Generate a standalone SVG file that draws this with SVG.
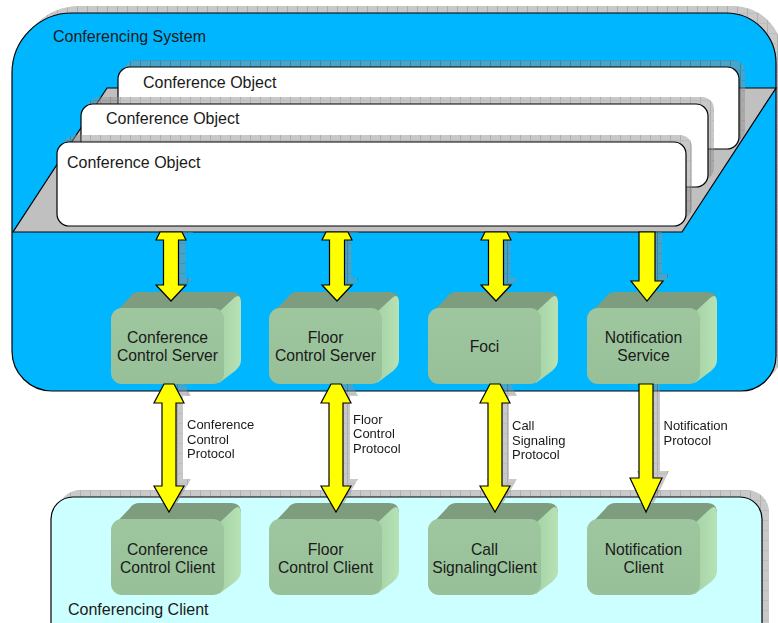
<svg xmlns="http://www.w3.org/2000/svg" xmlns:xlink="http://www.w3.org/1999/xlink" width="778" height="623" viewBox="0 0 778 623">
<defs>
<style>
text { font-family: "Liberation Sans", Arial, Helvetica, sans-serif; fill: #1a1a1a; }
.big { font-size: 16px; }
.lbl { font-size: 15.7px; text-anchor: middle; }
.proto { font-size: 13px; }
.edge { stroke: #000; stroke-width: 1.2; }
.shadow { fill: url(#hatch); opacity: 0.5; }
.co { fill: #fff; stroke: #000; stroke-width: 1.2; }
</style>
<pattern id="hatch" width="10" height="10" patternUnits="userSpaceOnUse">
<rect width="10" height="10" fill="#929292"/>
<rect width="1" height="10" fill="#5c5c5c"/>
<rect width="10" height="1" fill="#7a7a7a"/>
</pattern>
<linearGradient id="gRight" x1="0" y1="0" x2="1" y2="0">
<stop offset="0" stop-color="#a6d3a6"/>
<stop offset="1" stop-color="#b6e2b6"/>
</linearGradient>
<linearGradient id="gFront" x1="0" y1="0" x2="0" y2="1">
<stop offset="0" stop-color="#9fc79f"/>
<stop offset="1" stop-color="#98c098"/>
</linearGradient>
<g id="cube">
<path d="M3,6 L19,-11 Q22,-16 29,-16 L120,-16 Q130,-16 130,-6 L113,10 Z" fill="#7e9c7e"/>
<path d="M108,4 L123,-10 Q130,-16 130,-4 L130,52 Q130,58 124,63 L108,75 Z" fill="url(#gRight)"/>
<rect x="0" y="0" width="113" height="76" rx="11" fill="url(#gFront)"/>
</g>
<clipPath id="clipUp"><rect x="0" y="232" width="778" height="59"/></clipPath>
<clipPath id="clipLow"><rect x="0" y="384" width="778" height="119"/></clipPath>
</defs>

<g id="conferencing-system">
<path class="shadow" transform="translate(7,-7)" d="M72,13 H726 A50,50 0 0 1 776,63 V356 A35,35 0 0 1 741,391 H52 A40,40 0 0 1 12,351 V73 A60,60 0 0 1 72,13 Z"/>
<path d="M72,13 H726 A50,50 0 0 1 776,63 V356 A35,35 0 0 1 741,391 H52 A40,40 0 0 1 12,351 V73 A60,60 0 0 1 72,13 Z" fill="#00b6ff" class="edge"/>
<text class="big" x="53" y="42">Conferencing System</text>
</g>

<g id="conferencing-client">
<rect class="shadow" x="58" y="490" width="711" height="180" rx="22"/>
<rect x="51" y="497" width="711" height="180" rx="22" fill="#ccffff" class="edge"/>
<text class="big" x="68" y="615">Conferencing Client</text>
</g>

<g id="conference-object-stack">
<polygon points="107,88 776,88 682,232 13,232" fill="#c0c0c0" class="edge"/>
</g>

<g id="conference-object-3">
<rect class="shadow" x="124" y="60" width="621" height="82" rx="12"/>
<rect class="co" x="118" y="67" width="621" height="82" rx="12"/>
<text class="big" x="143" y="88">Conference Object</text>
</g>
<g id="conference-object-2">
<rect class="shadow" x="87" y="97" width="627" height="83" rx="12"/>
<rect class="co" x="81" y="104" width="627" height="83" rx="12"/>
<text class="big" x="106" y="124">Conference Object</text>
</g>
<g id="conference-object-1">
<rect class="shadow" x="63" y="135" width="629" height="84" rx="12"/>
<rect class="co" x="57" y="142" width="629" height="84" rx="12"/>
<text class="big" x="67" y="168">Conference Object</text>
</g>

<g id="conference-control-server">
<use href="#cube" x="111" y="308"/>
<text class="lbl" x="167.5" y="343">Conference</text>
<text class="lbl" x="167.5" y="361">Control Server</text>
</g>
<g id="floor-control-server">
<use href="#cube" x="269" y="308"/>
<text class="lbl" x="325.5" y="343">Floor</text>
<text class="lbl" x="325.5" y="361">Control Server</text>
</g>
<g id="foci">
<use href="#cube" x="428" y="308"/>
<text class="lbl" x="484.5" y="352">Foci</text>
</g>
<g id="notification-service">
<use href="#cube" x="587" y="308"/>
<text class="lbl" x="643.5" y="343">Notification</text>
<text class="lbl" x="643.5" y="361">Service</text>
</g>

<g id="conference-control-client">
<use href="#cube" x="111" y="519"/>
<text class="lbl" x="167.5" y="555">Conference</text>
<text class="lbl" x="167.5" y="573">Control Client</text>
</g>
<g id="floor-control-client">
<use href="#cube" x="269" y="519"/>
<text class="lbl" x="325.5" y="555">Floor</text>
<text class="lbl" x="325.5" y="573">Control Client</text>
</g>
<g id="call-signaling-client">
<use href="#cube" x="428" y="519"/>
<text class="lbl" x="484.5" y="555">Call</text>
<text class="lbl" x="484.5" y="573">SignalingClient</text>
</g>
<g id="notification-client">
<use href="#cube" x="587" y="519"/>
<text class="lbl" x="643.5" y="555">Notification</text>
<text class="lbl" x="643.5" y="573">Client</text>
</g>

<g id="connectors">
<g clip-path="url(#clipUp)" fill="url(#hatch)" opacity="0.5">
<use href="#a1" transform="translate(7,-7)"/>
<use href="#a2" transform="translate(7,-7)"/>
<use href="#a3" transform="translate(7,-7)"/>
<use href="#a4" transform="translate(7,-7)"/>
</g>
<g clip-path="url(#clipLow)" fill="url(#hatch)" opacity="0.5">
<use href="#b1" transform="translate(7,-7)"/>
<use href="#b2" transform="translate(7,-7)"/>
<use href="#b3" transform="translate(7,-7)"/>
<use href="#b4" transform="translate(7,-7)"/>
</g>
<g fill="#ffff00" stroke="#000" stroke-width="1.2" stroke-linejoin="miter">
<path id="a1" d="M160,232 H182 L186,240 H178.5 V285 H186 L171,301 L156,285 H163.5 V240 H156 Z"/>
<path id="a2" d="M326,232 H348 L352,240 H344.5 V285 H352 L337,301 L322,285 H329.5 V240 H322 Z"/>
<path id="a3" d="M485,232 H507 L511,240 H503.5 V285 H511 L496,301 L481,285 H488.5 V240 H481 Z"/>
<path id="a4" d="M639,232 H655 V281 H663 L647,301 L631,281 H639 Z"/>
<path id="b1" d="M164,384 H174 L184,403 H176 V486 H184 L169,512 L154,486 H162 V403 H154 Z"/>
<path id="b2" d="M331,384 H341 L351,403 H343 V486 H351 L336,512 L321,486 H329 V403 H321 Z"/>
<path id="b3" d="M490,384 H500 L510,403 H502 V486 H510 L495,512 L480,486 H488 V403 H480 Z"/>
<path id="b4" d="M639,384 H653 V478 H662 L646,512 L630,478 H639 Z"/>
</g>
<text class="proto" x="187" y="429">Conference</text>
<text class="proto" x="187" y="443.5">Control</text>
<text class="proto" x="187" y="458">Protocol</text>
<text class="proto" x="353" y="423.5">Floor</text>
<text class="proto" x="353" y="438">Control</text>
<text class="proto" x="353" y="452.5">Protocol</text>
<text class="proto" x="512" y="430">Call</text>
<text class="proto" x="512" y="444.5">Signaling</text>
<text class="proto" x="512" y="459">Protocol</text>
<text class="proto" x="663.5" y="430">Notification</text>
<text class="proto" x="663.5" y="444.5">Protocol</text>
</g>
</svg>
